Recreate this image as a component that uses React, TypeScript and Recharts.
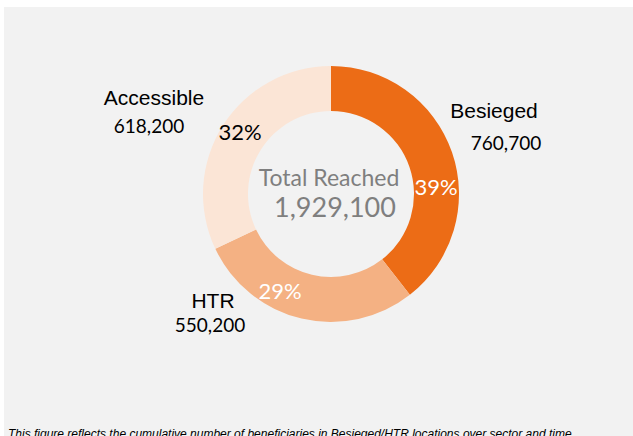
import React from "react";
import { Cell, Pie, PieChart } from "recharts";

const categories = ["Besieged", "HTR", "Accessible"];
const reached = [760700, 550200, 618200];
const percentLabels = ["39%", "29%", "32%"];
const totalLabel = "Total Reached";
const totalValue = "1,929,100";
const footnote =
  "This figure reflects the cumulative number of beneficiaries in Besieged/HTR locations over sector and time";

const colors = ["#EC6C16", "#F4B183", "#FBE5D6"];
const pctColors = ["#ffffff", "#ffffff", "#000000"];

const PIE_CX = 331;
const PIE_CY = 194;

// label offsets relative to pie centre (Excel places them freely)
const pctOffsets = [
  [105, -8],
  [-51, 96],
  [-91, -63],
];
const nameOffsets = [
  [163, -84],
  [-118, 106],
  [-177, -97],
];
const valueOffsets = [
  [175, -52],
  [-121, 130],
  [-182, -69],
];

const data = categories.map((name, i) => ({
  name,
  value: reached[i],
  pct: percentLabels[i],
}));

const calibri = "Lato, 'Open Sans', sans-serif";
const arial = "'Liberation Sans', Arial, sans-serif";

function renderLabel(props: any) {
  const { cx, cy, index } = props;
  const [px, py] = pctOffsets[index];
  const [nx, ny] = nameOffsets[index];
  const [vx, vy] = valueOffsets[index];
  return (
    <g>
      <text
        x={cx + px}
        y={cy + py}
        textAnchor="middle"
        dominantBaseline="central"
        fill={pctColors[index]}
        fontSize={22}
        fontFamily={calibri}
      >
        {percentLabels[index]}
      </text>
      <text
        x={cx + nx}
        y={cy + ny}
        textAnchor="middle"
        dominantBaseline="central"
        fill="#000"
        fontSize={21}
        fontFamily={arial}
      >
        {categories[index]}
      </text>
      <text
        x={cx + vx}
        y={cy + vy}
        textAnchor="middle"
        dominantBaseline="central"
        fill="#000"
        fontSize={19}
        fontFamily={calibri}
      >
        {reached[index].toLocaleString("en-US")}
      </text>
    </g>
  );
}

export default function App() {
  return (
    <div
      style={{
        position: "absolute",
        left: 0,
        top: 0,
        width: 633,
        height: 436,
        background: "#fff",
        overflow: "hidden",
      }}
    >
      <div
        style={{
          position: "absolute",
          left: 4,
          top: 7,
          right: 0,
          bottom: 0,
          background: "#F2F2F2",
        }}
      />
      <div style={{ position: "absolute", left: 0, top: 0 }}>
        <PieChart width={633} height={436} margin={{ top: 0, right: 0, bottom: 0, left: 0 }}>
          <Pie
            data={data}
            dataKey="value"
            nameKey="name"
            cx={PIE_CX}
            cy={PIE_CY}
            innerRadius={83}
            outerRadius={128}
            startAngle={90}
            endAngle={-270}
            stroke="none"
            labelLine={false}
            label={renderLabel}
            isAnimationActive={false}
          >
            {data.map((d, i) => (
              <Cell key={d.name} fill={colors[i]} />
            ))}
          </Pie>
          <text
            x={PIE_CX - 2}
            y={PIE_CY - 17}
            textAnchor="middle"
            dominantBaseline="central"
            fill="#7F7F7F"
            fontSize={23}
            fontFamily={calibri}
          >
            {totalLabel}
          </text>
          <text
            x={PIE_CX + 4}
            y={PIE_CY + 12}
            textAnchor="middle"
            dominantBaseline="central"
            fill="#7F7F7F"
            fontSize={27}
            fontFamily={calibri}
          >
            {totalValue}
          </text>
        </PieChart>
      </div>
      <div
        style={{
          position: "absolute",
          left: 8,
          top: 427,
          fontFamily: arial,
          fontStyle: "italic",
          fontSize: 12,
          lineHeight: "14px",
          color: "#000",
          whiteSpace: "nowrap",
        }}
      >
        {footnote}
      </div>
    </div>
  );
}
